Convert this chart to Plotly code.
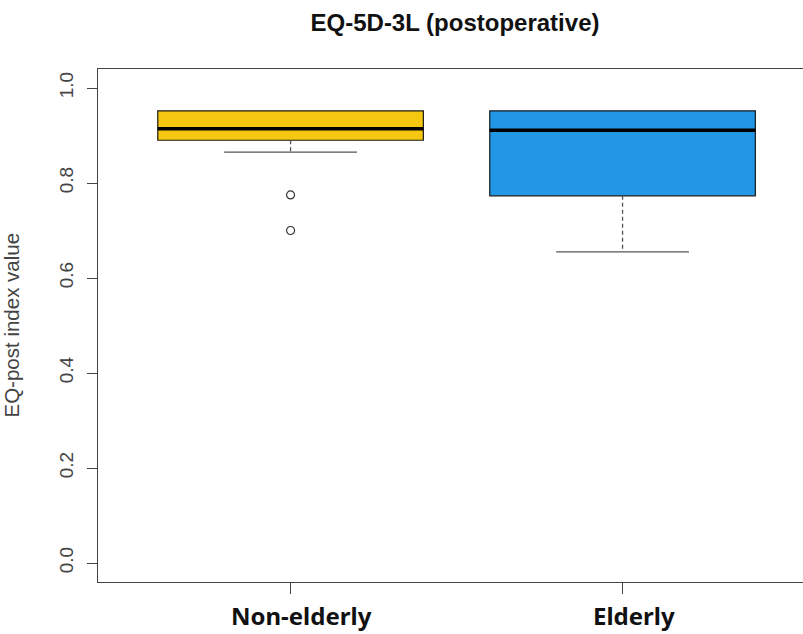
import plotly.graph_objects as go

# ---- data ----
groups = ["Non-elderly", "Elderly"]
positions = [1, 2]
q1 = [0.890, 0.773]
median = [0.914, 0.911]
q3 = [0.952, 0.952]
lower_whisker = [0.865, 0.655]
upper_whisker = [0.952, 0.952]
outliers = [[0.775, 0.700], []]
colors = ["#F5C710", "#2297E6"]
y_ticks = [0.0, 0.2, 0.4, 0.6, 0.8, 1.0]
y_tick_labels = ["0.0", "0.2", "0.4", "0.6", "0.8", "1.0"]

BOXWEX = 0.8
STAPLE = 0.4

fig = go.Figure()

for i, g in enumerate(groups):
    x0 = positions[i]
    # box body (whiskers drawn separately, R-style)
    fig.add_trace(go.Box(
        x=[x0], q1=[q1[i]], median=[median[i]], q3=[q3[i]],
        lowerfence=[q1[i]], upperfence=[q3[i]],
        width=BOXWEX, whiskerwidth=0,
        fillcolor=colors[i], line=dict(color="#1a1a1a", width=1.2),
        boxpoints=False, hoverinfo="skip", showlegend=False,
    ))
    # thick median
    fig.add_trace(go.Scatter(
        x=[x0 - BOXWEX / 2, x0 + BOXWEX / 2], y=[median[i], median[i]],
        mode="lines", line=dict(color="black", width=3.5),
        hoverinfo="skip", showlegend=False,
    ))
    # lower whisker (dashed) + staple
    if lower_whisker[i] < q1[i]:
        fig.add_trace(go.Scatter(
            x=[x0, x0], y=[q1[i], lower_whisker[i]],
            mode="lines", line=dict(color="#555555", width=1.3, dash="4px,3px"),
            hoverinfo="skip", showlegend=False,
        ))
    fig.add_trace(go.Scatter(
        x=[x0 - STAPLE / 2, x0 + STAPLE / 2], y=[lower_whisker[i], lower_whisker[i]],
        mode="lines", line=dict(color="#555555", width=1.3),
        hoverinfo="skip", showlegend=False,
    ))
    if upper_whisker[i] > q3[i]:
        fig.add_trace(go.Scatter(
            x=[x0, x0], y=[q3[i], upper_whisker[i]],
            mode="lines", line=dict(color="#555555", width=1.3, dash="4px,3px"),
            hoverinfo="skip", showlegend=False,
        ))
        fig.add_trace(go.Scatter(
            x=[x0 - STAPLE / 2, x0 + STAPLE / 2], y=[upper_whisker[i], upper_whisker[i]],
            mode="lines", line=dict(color="#555555", width=1.3),
            hoverinfo="skip", showlegend=False,
        ))
    if outliers[i]:
        fig.add_trace(go.Scatter(
            x=[x0] * len(outliers[i]), y=outliers[i], mode="markers",
            marker=dict(symbol="circle-open", size=8, color="#333333",
                        line=dict(width=1.2, color="#333333")),
            hoverinfo="skip", showlegend=False,
        ))

W, H = 803, 634
L, R, T, B = 98, 0, 69, 52
plot_w = W - L - R
x_lo = 0.42
x_hi = x_lo + plot_w / 332.0

annotations = [dict(text="EQ-post index value", textangle=-90,
                    x=(11 - L) / plot_w, xref="paper", xanchor="center",
                    y=0.5, yref="paper", yanchor="middle", showarrow=False,
                    font=dict(family="Liberation Sans, Arial", size=20.5, color="#444444"))]
# category labels (drawn slightly right of the ticks, as in the reference)
for p, g in zip(positions, groups):
    annotations.append(dict(text=f"<b>{g}</b>", x=p, xref="x", y=0, yref="paper",
                            xanchor="center", yanchor="top", xshift=11, yshift=-15,
                            showarrow=False,
                            font=dict(family="Noto Sans, Open Sans", size=24, color="#111111")))

fig.update_layout(
    width=W, height=H,
    margin=dict(l=L, r=R, t=T, b=B),
    plot_bgcolor="white", paper_bgcolor="white",
    title=dict(text="<b>EQ-5D-3L (postoperative)</b>",
               x=(455 - L) / plot_w, xref="paper", xanchor="center",
               y=1 - 23 / H, yref="container", yanchor="middle",
               font=dict(family="Liberation Sans, Arial", size=24, color="#111111")),
    xaxis=dict(range=[x_lo, x_hi], tickvals=positions, ticktext=["", ""],
               showline=True, linecolor="#444444", linewidth=1.2, mirror=True,
               ticks="outside", ticklen=11, tickcolor="#444444", tickwidth=1.2,
               showgrid=False, zeroline=False, automargin=False),
    yaxis=dict(range=[-0.04, 1.04], tickvals=y_ticks, ticktext=y_tick_labels,
               showline=True, linecolor="#444444", linewidth=1.2, mirror=False,
               ticks="outside", ticklen=10, tickcolor="#444444", tickwidth=1.2,
               tickangle=-90, showgrid=False, zeroline=False, automargin=False,
               ticklabelstandoff=6,
               tickfont=dict(family="Liberation Sans, Arial", size=19, color="#444444")),
    annotations=annotations,
)

fig.write_html("out.html")
